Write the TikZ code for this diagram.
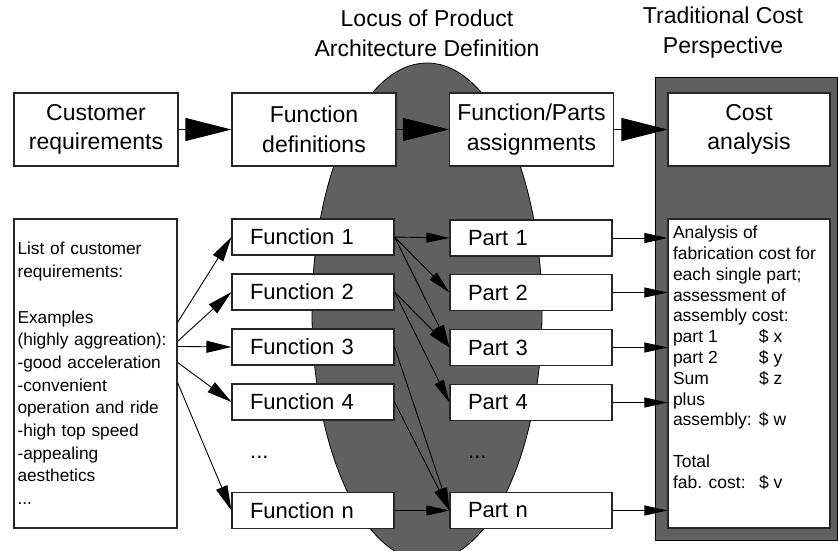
\documentclass[tikz,border=0pt]{standalone}
\usepackage{fontspec}
\setmainfont{Liberation Sans}
\usepackage{tikz}
\usetikzlibrary{arrows.meta,shapes.geometric}
\definecolor{locusgray}{RGB}{96,96,96}
\newcommand{\titlefont}{\fontsize{23}{30}\selectfont}
\newcommand{\capfont}{\fontsize{23}{29.5}\selectfont}
\newcommand{\rowfont}{\fontsize{22}{26}\selectfont}
\newcommand{\listfont}{\fontsize{17.3}{22.7}\selectfont}
\newcommand{\costfont}{\fontsize{17.5}{20.8}\selectfont}
\newcommand{\costrow}[2]{\makebox[86pt][l]{#1}\$ #2}

\begin{document}
\begin{tikzpicture}[x=1pt,y=-1pt]
\useasboundingbox (0,0) rectangle (838,550);
% grey backgrounds
\node[ellipse,draw=black,line width=0.8pt,fill=locusgray,inner sep=0pt,
      minimum width=230pt,minimum height=498pt] (locus) at (427,312) {};
\node[draw=black,line width=1pt,fill=locusgray,inner sep=0pt,
      minimum width=182pt,minimum height=463pt] (costbg) at (746,308.5) {};
\node[align=center,font=\titlefont] (loctitle) at (427,33) {Locus of Product\\Architecture Definition};
\node[align=center,font=\titlefont] (costtitle) at (723,33) {Traditional Cost\\Perspective};
\begin{scope}[every node/.style={draw=black!85,line width=1.1pt,fill=white,align=center,
              inner sep=0pt,minimum width=164pt,minimum height=73pt,font=\capfont}]
    \node (cust) at (96,129.5) {Customer\\requirements};
    \node (fdef) at (314,129.5) {Function\\definitions};
    \node (fpa) at (531.5,129.5) {Function/Parts\\assignments};
    \node[minimum width=162pt] (cost) at (749,129.5) {Cost\\analysis};
\end{scope}
\begin{scope}[every node/.style={draw=black!85,line width=1.1pt,fill=white,align=left,
              inner xsep=18pt,inner ysep=0pt,text width=126pt,minimum height=36pt,font=\rowfont}]
    \node (f1) at (313,237) {Function 1};
    \node (f2) at (313,292) {Function 2};
    \node (f3) at (313,347) {Function 3};
    \node (f4) at (313,402) {Function 4};
    \node (fn) at (313,510.5) {Function n};
    \node (p1) at (531,238) {Part 1};
    \node (p2) at (531,292.5) {Part 2};
    \node (p3) at (531,347.5) {Part 3};
    \node (p4) at (531,402.5) {Part 4};
    \node (pn) at (531,510.5) {Part n};
\end{scope}
\node[anchor=west,inner sep=0pt,font=\rowfont] (fdots) at (250,457) {...};
\node[anchor=west,inner sep=0pt,font=\rowfont] (pdots) at (468,457) {...};
\node[draw=black!85,line width=1.1pt,fill=white,align=left,inner xsep=3.5pt,inner ysep=0pt,
      text width=156pt,minimum height=309pt,font=\listfont] (list) at (95.5,373.5)
    {List of customer\\requirements:\\\mbox{}\\Examples\\\mbox{(highly aggreation):}\\-good acceleration\\
     -convenient\\operation and ride\\-high top speed\\-appealing\\aesthetics\\...};
\node[draw=black!85,line width=1.1pt,fill=white,inner xsep=5pt,inner ysep=7pt,
      minimum height=309pt,font=\costfont] (costs) at (749,373.5)
    {\parbox[c][295pt][t]{152pt}{\raggedright
     Analysis of\\fabrication cost for\\each single part;\\assessment of\\assembly cost:\\
     \costrow{part 1}{x}\\\costrow{part 2}{y}\\\costrow{Sum}{z}\\plus\\\costrow{assembly:}{w}\\
     \mbox{}\\Total\\\costrow{fab. cost:}{v}}};
% main flow
\begin{scope}[>={Triangle[length=46pt,width=23pt]},
              every edge/.style={draw=black,line width=1pt}]
    \path [->] (cust) edge (fdef);
    \path [->] (fdef) edge (fpa);
    \path [->] (fpa) edge (cost);
\end{scope}
% requirements to functions
\begin{scope}[>={Triangle[length=25pt,width=12pt]},
              every edge/.style={draw=black,line width=0.9pt}]
    \path [->] ([yshift=-104pt]list.north east) edge (f1.west);
    \path [->] ([yshift=-123pt]list.north east) edge (f2.west);
    \path [->] ([yshift=-128pt]list.north east) edge (f3.west);
    \path [->] ([yshift=-144pt]list.north east) edge (f4.west);
    \path [->] ([yshift=-164pt]list.north east) edge (fn.west);
\end{scope}
% functions to parts, parts to cost
\begin{scope}[>={Triangle[length=23pt,width=10pt]},
              every edge/.style={draw=black,line width=0.9pt}]
    \path [->] (f1.east) edge (p1.west);
    \path [->] (f1.east) edge (p2.west);
    \path [->] (f1.east) edge (p3.west);
    \path [->] (f2.east) edge (p3.west);
    \path [->] (f2.east) edge (p4.west);
    \path [->] (f3.east) edge (pn.west);
    \path [->] (f4.east) edge (pn.west);
    \path [->] (fn.east) edge (pn.west);
    \path [->] (p1.east) edge (costs.west |- p1.east);
    \path [->] (p2.east) edge (costs.west |- p2.east);
    \path [->] (p3.east) edge (costs.west |- p3.east);
    \path [->] (p4.east) edge (costs.west |- p4.east);
    \path [->] (pn.east) edge (costs.west |- pn.east);
\end{scope}
\end{tikzpicture}
\end{document}
